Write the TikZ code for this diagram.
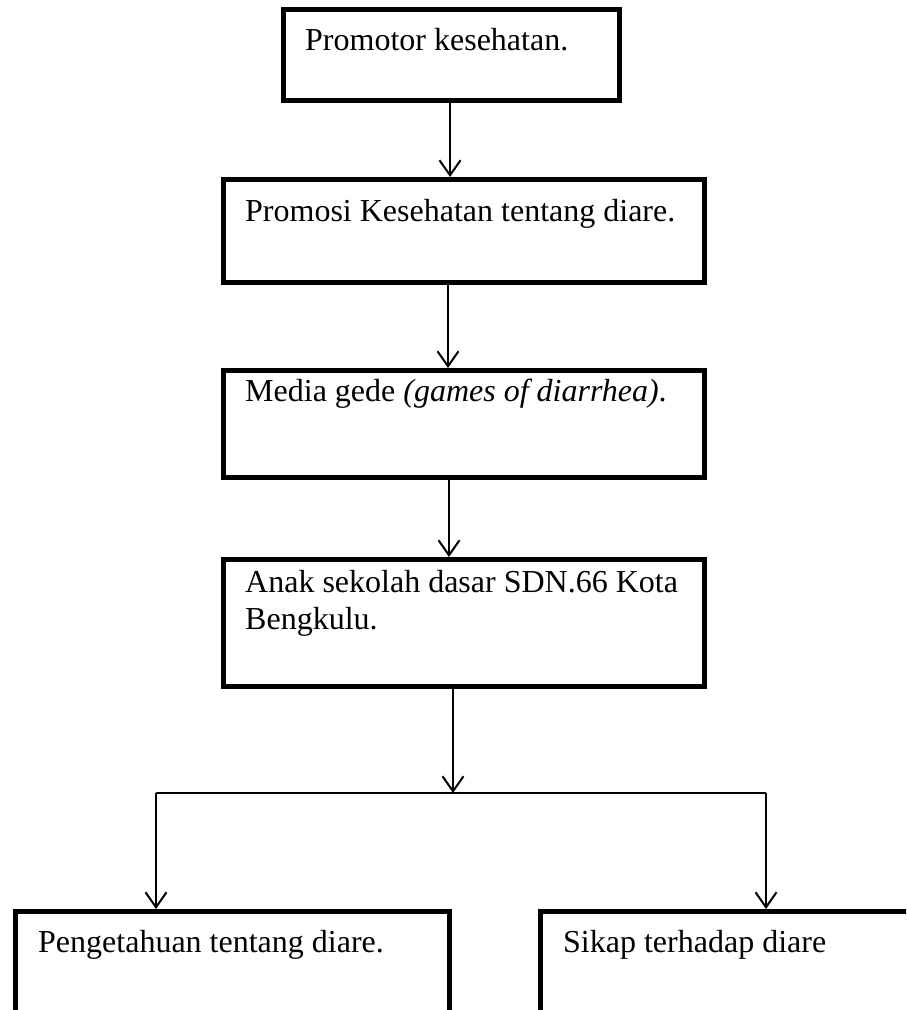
\documentclass[tikz,border=0pt]{standalone}
\usepackage{fontspec}
\setmainfont{Liberation Serif}
\usetikzlibrary{arrows.meta}
\begin{document}
\begin{tikzpicture}[x=1pt,y=-1pt,
  box/.style={draw=black,line width=5pt,inner sep=0pt,minimum width=#1},
  txt/.style={anchor=base west,inner sep=0pt,font=\fontsize{32}{37}\selectfont},
  arr/.style={line width=2pt,-{Straight Barb[length=15pt,width=21pt,line width=2pt]}},
  conn/.style={line width=2pt}]
\useasboundingbox (0,0) rectangle (906,1010);
\clip (0,0) rectangle (906,1010);
% boxes
\node[box=336pt,minimum height=91pt]  (b1) at (451.5,55) {};
\node[box=481pt,minimum height=103pt] (b2) at (464,231) {};
\node[box=481pt,minimum height=107pt] (b3) at (464,424) {};
\node[box=481pt,minimum height=127pt] (b4) at (464,623) {};
\node[box=434pt,minimum height=188.5pt] (b5) at (232.5,1005.75) {};
\node[box=459.5pt,minimum height=188.5pt] (b6) at (770.25,1005.75) {};
% texts
\node[txt] (t1) at (305,50) {Promotor kesehatan.};
\node[txt] (t2) at (245,221) {Promosi Kesehatan tentang diare.};
\node[txt] (t3) at (245,401) {Media gede \textit{(games of diarrhea)}.};
\node[txt] (t4) at (245,592) {Anak sekolah dasar SDN.66 Kota};
\node[txt] (t4b) at (245,629) {Bengkulu.};
\node[txt] (t5) at (38,952) {Pengetahuan tentang diare.};
\node[txt] (t6) at (563,952) {Sikap terhadap diare};
% connector guides
\coordinate (x1) at (450,0);
\coordinate (x2) at (448,0);
\coordinate (x3) at (449,0);
\coordinate (x4) at (453,0);
\coordinate (hl) at (156,793);
\coordinate (hr) at (766,793);
% connectors
\draw[arr] (x1 |- b1.south) -- (x1 |- b2.north);
\draw[arr] (x2 |- b2.south) -- (x2 |- b3.north);
\draw[arr] (x3 |- b3.south) -- (x3 |- b4.north);
\draw[arr] (x4 |- b4.south) -- (x4 |- hl);
\draw[conn] (hl) -- (hr);
\draw[arr] (hl) -- (hl |- b5.north);
\draw[arr] (hr) -- (hr |- b6.north);
\end{tikzpicture}
\end{document}
